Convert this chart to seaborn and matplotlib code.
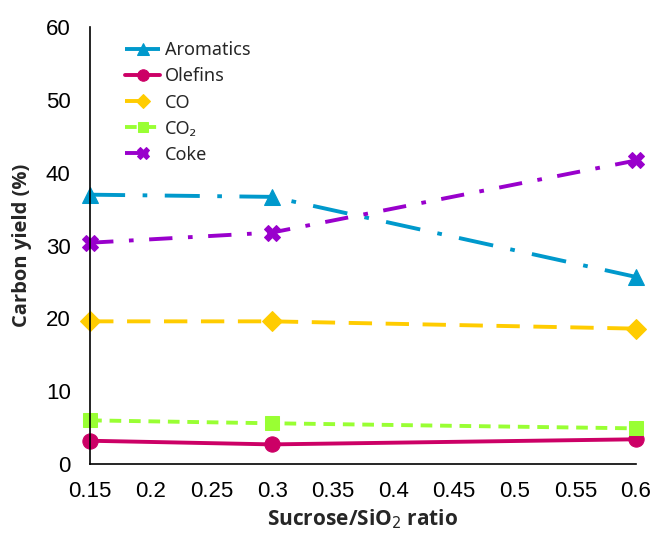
import matplotlib
matplotlib.use("Agg")
import matplotlib.pyplot as plt
import seaborn as sns
import pandas as pd

ratio = [0.15, 0.3, 0.6]
aromatics = [37.0, 36.7, 25.7]
olefins = [3.2, 2.7, 3.4]
co = [19.6, 19.6, 18.6]
co2 = [6.0, 5.6, 4.9]
coke = [30.4, 31.8, 41.7]

series_names = ["Aromatics", "Olefins", "CO", "CO₂", "Coke"]
series_vals = [aromatics, olefins, co, co2, coke]
colors = ["#0099CC", "#CC0066", "#FFCC00", "#99FF33", "#9900CC"]
markers = ["^", "o", "D", "s", "X"]
msizes = [11, 11, 10, 10, 12]
dashes = [(0, (9, 4.5, 1.2, 4.5)), "-", (0, (6, 3.5)), (0, (3, 2)), (0, (6, 4, 1.2, 4))]

rows = []
for n, v in zip(series_names, series_vals):
    for x, y in zip(ratio, v):
        rows.append({"ratio": x, "value": y, "series": n})
df = pd.DataFrame(rows)

sns.set_style("white")
plt.rcParams['font.family'] = ['Liberation Sans', 'DejaVu Sans']

fig = plt.figure(figsize=(6.53, 5.34), dpi=100)
ax = fig.add_axes([0.138, 0.131, 0.836, 0.818])

for n, c, m, ms, ls in zip(series_names, colors, markers, msizes, dashes):
    sub = df[df["series"] == n]
    sns.lineplot(data=sub, x="ratio", y="value", ax=ax, color=c, marker=m,
                 markersize=ms, linestyle=ls, linewidth=2.8, label=n,
                 markeredgecolor=c, clip_on=False)

ax.set_xlim(0.15, 0.6)
ax.set_ylim(0, 60)
ax.set_xticks([0.15, 0.2, 0.25, 0.3, 0.35, 0.4, 0.45, 0.5, 0.55, 0.6])
ax.set_xticklabels(["0.15", "0.2", "0.25", "0.3", "0.35", "0.4", "0.45", "0.5", "0.55", "0.6"])
ax.set_yticks([0, 10, 20, 30, 40, 50, 60])
ax.tick_params(axis="both", direction="in", length=5, width=1, labelsize=16, colors="black")
ax.tick_params(axis="x", pad=12)
ax.tick_params(axis="y", pad=14)
for s in ["top", "right"]:
    ax.spines[s].set_visible(False)
for s in ["left", "bottom"]:
    ax.spines[s].set_color("black")
    ax.spines[s].set_linewidth(1.2)

ax.set_xlabel("Sucrose/SiO$_2$ ratio", fontsize=15, fontweight="bold",
              family=["Open Sans", "DejaVu Sans"], labelpad=4)
ax.set_ylabel("Carbon yield (%)", fontsize=14.5, fontweight="bold",
              family=["Open Sans", "DejaVu Sans"], labelpad=10)

leg = ax.legend(loc="upper left", bbox_to_anchor=(0.035, 1.005), frameon=False,
                prop={"family": ["Noto Sans", "DejaVu Sans"], "size": 13},
                handlelength=1.9, labelspacing=0.45, markerscale=0.75, handletextpad=0.3)

fig.savefig("out.png", dpi=100)
